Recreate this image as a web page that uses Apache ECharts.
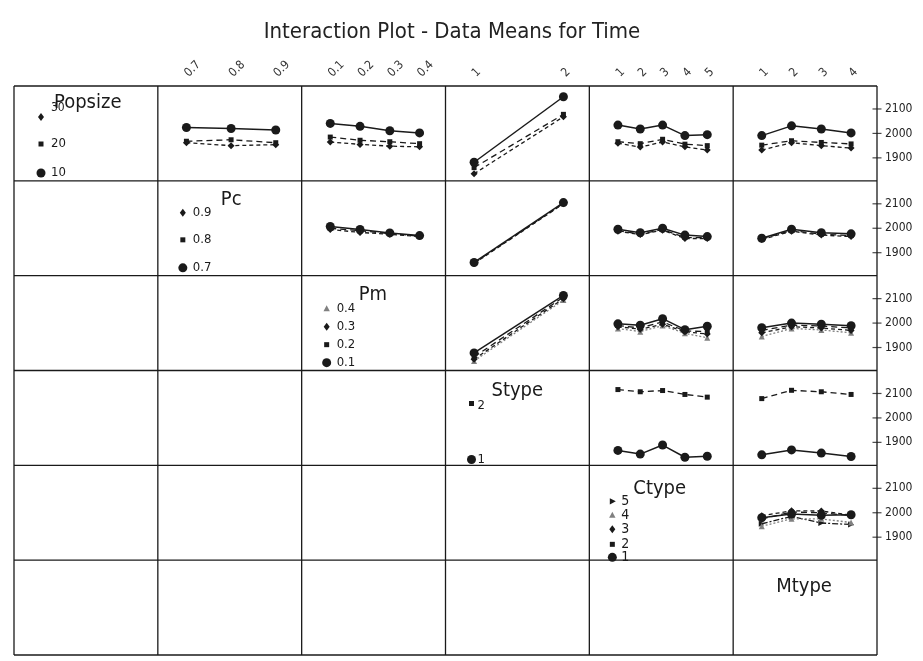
<!DOCTYPE html>
<html>
<head>
<meta charset="utf-8">
<title>Interaction Plot - Data Means for Time</title>
<script src="https://cdn.jsdelivr.net/npm/echarts@6/dist/echarts.min.js"></script>
<style>
  html, body { margin: 0; padding: 0; background: #fff; }
  #chart { width: 923px; height: 661px; }
</style>
</head>
<body>
<div id="chart"></div>
<script>
// Factors and their levels
const factorNames = ['Popsize', 'Pc', 'Pm', 'Stype', 'Ctype', 'Mtype'];
const popsizeLevels = ['10', '20', '30'];
const pcLevels = ['0.7', '0.8', '0.9'];
const pmLevels = ['0.1', '0.2', '0.3', '0.4'];
const stypeLevels = ['1', '2'];
const ctypeLevels = ['1', '2', '3', '4', '5'];
const mtypeLevels = ['1', '2', '3', '4'];
const yTicks = [1900, 2000, 2100];

// Mean Time: one row per level of the trace factor, one value per level of the x factor
const popsizeByPc = [[2024, 2020, 2014], [1968, 1974, 1962], [1962, 1950, 1954]];
const popsizeByPm = [[2041, 2029, 2011, 2002], [1985, 1972, 1966, 1958], [1965, 1955, 1948, 1945]];
const popsizeByStype = [[1882, 2150], [1860, 2078], [1835, 2068]];
const popsizeByCtype = [[2034, 2018, 2034, 1991, 1995], [1966, 1958, 1976, 1956, 1950], [1960, 1944, 1965, 1945, 1932]];
const popsizeByMtype = [[1991, 2031, 2018, 2002], [1952, 1970, 1963, 1957], [1932, 1962, 1950, 1940]];
const pcByPm = [[2007, 1995, 1981, 1970], [2000, 1990, 1978, 1968], [1995, 1983, 1975, 1966]];
const pcByStype = [[1860, 2105], [1858, 2102], [1856, 2100]];
const pcByCtype = [[1996, 1982, 2000, 1972, 1966], [1990, 1976, 1995, 1962, 1962], [1988, 1974, 1992, 1958, 1958]];
const pcByMtype = [[1959, 1996, 1982, 1977], [1956, 1991, 1976, 1970], [1954, 1988, 1972, 1966]];
const pmByStype = [[1878, 2113], [1862, 2106], [1852, 2100], [1845, 2094]];
const pmByCtype = [[1997, 1991, 2018, 1973, 1987], [1990, 1980, 2005, 1968, 1965], [1985, 1975, 1995, 1965, 1955], [1978, 1965, 1990, 1958, 1940]];
const pmByMtype = [[1981, 2000, 1995, 1989], [1970, 1992, 1988, 1980], [1960, 1985, 1980, 1970], [1945, 1978, 1972, 1960]];
const stypeByCtype = [[1867, 1852, 1889, 1839, 1843], [2116, 2107, 2112, 2096, 2085]];
const stypeByMtype = [[1849, 1869, 1856, 1842], [2079, 2113, 2107, 2096]];
const ctypeByMtype = [[1980, 1995, 1990, 1992], [1975, 2003, 2000, 1988], [1988, 2008, 2007, 1990], [1945, 1975, 1975, 1960], [1955, 1985, 1958, 1952]];

const factorLevels = [popsizeLevels, pcLevels, pmLevels, stypeLevels, ctypeLevels, mtypeLevels];
const panels = [
  [0, 1, popsizeByPc], [0, 2, popsizeByPm], [0, 3, popsizeByStype], [0, 4, popsizeByCtype], [0, 5, popsizeByMtype],
  [1, 2, pcByPm], [1, 3, pcByStype], [1, 4, pcByCtype], [1, 5, pcByMtype],
  [2, 3, pmByStype], [2, 4, pmByCtype], [2, 5, pmByMtype],
  [3, 4, stypeByCtype], [3, 5, stypeByMtype],
  [4, 5, ctypeByMtype]
];

// Matrix layout
const L = 14, T = 86, W = 863, H = 569;
const cw = W / 6, ch = H / 6;
const FONT = '"DejaVu Sans Condensed", "DejaVu Sans", sans-serif';
const INK = '#1a1a1a';

// Line / marker style for each level of the trace factor
const traceStyles = [
  { symbol: 'circle', size: 9, rotate: 0, type: 'solid', width: 1.5, color: INK },
  { symbol: 'rect', size: 5, rotate: 0, type: [6, 4], width: 1.3, color: INK },
  { symbol: 'diamond', size: 7, rotate: 0, type: [4, 3], width: 1.3, color: INK },
  { symbol: 'triangle', size: 6, rotate: 0, type: [2, 2], width: 1.3, color: '#808080' },
  { symbol: 'triangle', size: 6, rotate: -90, type: [6, 2, 2, 2], width: 1.3, color: INK }
];

const grids = [], xAxes = [], yAxes = [], series = [];
panels.forEach(([r, c, values], idx) => {
  const n = factorLevels[c].length;
  grids.push({ left: L + c * cw, top: T + r * ch, width: cw, height: ch, show: false });
  xAxes.push({
    type: 'value', gridIndex: idx, position: 'top',
    min: -(n - 1) * 0.32, max: (n - 1) * 1.29,
    show: r === 0,
    axisLine: { show: false }, axisTick: { show: false }, splitLine: { show: false },
    axisLabel: {
      show: r === 0, rotate: -45, margin: 11, fontSize: 12, color: '#333', fontFamily: FONT,
      customValues: factorLevels[c].map((_, i) => i),
      formatter: v => factorLevels[c][Math.round(v)]
    }
  });
  const last = c === 5;
  yAxes.push({
    type: 'value', gridIndex: idx, position: 'right', min: 1806, max: 2194,
    show: last,
    axisLine: { show: false }, splitLine: { show: false },
    axisTick: { show: false },
    axisLabel: {
      show: last, margin: 8, fontSize: 12, color: '#222', fontFamily: FONT,
      customValues: yTicks, formatter: v => String(v)
    }
  });
  values.forEach((trace, k) => {
    const s = traceStyles[k];
    series.push({
      type: 'line', xAxisIndex: idx, yAxisIndex: idx,
      data: trace.map((v, i) => [i, v]),
      symbol: s.symbol, symbolSize: s.size, symbolRotate: s.rotate,
      lineStyle: { type: s.type, width: s.width, color: s.color },
      itemStyle: { color: s.color },
      z: 10 - k, silent: true, animation: false
    });
  });
  // "+" tick marks across the right border, placed through the panel's own y scale
  if (last) {
    series.push({
      type: 'scatter', xAxisIndex: idx, yAxisIndex: idx,
      data: yTicks.map(v => [(n - 1) * 1.29, v]),
      symbol: 'rect', symbolSize: [9, 1.2], itemStyle: { color: INK },
      silent: true, animation: false, clip: false, z: 12
    });
  }
});

// Lattice of cell borders
const graphics = [];
for (let i = 0; i <= 6; i++) {
  graphics.push({ type: 'line', shape: { x1: L + i * cw, y1: T, x2: L + i * cw, y2: T + H }, style: { stroke: INK, lineWidth: 1.3 }, z: 5 });
  graphics.push({ type: 'line', shape: { x1: L, y1: T + i * ch, x2: L + W, y2: T + i * ch }, style: { stroke: INK, lineWidth: 1.3 }, z: 5 });
}

// Legend marker shapes drawn in the diagonal cells
function marker(k, x, y) {
  const s = traceStyles[k];
  const st = { fill: s.color };
  if (s.symbol === 'circle') return { type: 'circle', shape: { cx: x, cy: y, r: 4.5 }, style: st };
  if (s.symbol === 'rect') return { type: 'rect', shape: { x: x - 2.5, y: y - 2.5, width: 5, height: 5 }, style: st };
  if (s.symbol === 'diamond') return { type: 'polygon', shape: { points: [[x, y - 4], [x + 3, y], [x, y + 4], [x - 3, y]] }, style: st };
  if (s.rotate === 0) return { type: 'polygon', shape: { points: [[x, y - 3.5], [x + 3.2, y + 2.5], [x - 3.2, y + 2.5]] }, style: st };
  return { type: 'polygon', shape: { points: [[x + 3.5, y], [x - 2.5, y - 3.2], [x - 2.5, y + 3.2]] }, style: st };
}
function text(str, x, y, size) {
  return { type: 'text', x: x, y: y, style: { text: str, fontSize: size, fontFamily: FONT, fill: INK, verticalAlign: 'middle', align: 'left' }, z: 20 };
}

// Diagonal: factor name with its level key (highest level on top)
const legendLayouts = [
  { name: [40, 17], mx: 27, tx: 37, rows: [87, 58, 31], labelSize: 13, raise: [0, 0, -9] },
  { name: [63, 19], mx: 25, tx: 35, rows: [87, 59, 32], labelSize: 13, raise: [0, 0, 0] },
  { name: [57, 19], mx: 25, tx: 35, rows: [87, 69, 51, 33], labelSize: 13, raise: [0, 0, 0, 0] },
  { name: [46, 20], mx: 26, tx: 32, rows: [89, 33], labelSize: 13, raise: [0, 2] },
  { name: [44, 23], mx: 23, tx: 32, rows: [92, 79, 64, 50, 36], labelSize: 14, raise: [0, 0, 0, 0, 0] }
];
legendLayouts.forEach((lay, f) => {
  const ox = L + f * cw, oy = T + f * ch;
  graphics.push(text(factorNames[f], ox + lay.name[0], oy + lay.name[1], 20));
  factorLevels[f].forEach((lv, k) => {
    graphics.push(Object.assign(marker(k, ox + lay.mx, oy + lay.rows[k]), { z: 20 }));
    graphics.push(text(lv, ox + lay.tx, oy + lay.rows[k] + lay.raise[k], k === 2 && f === 0 ? 12 : lay.labelSize));
  });
});
graphics.push(text(factorNames[5], L + 5 * cw + 43, T + 5 * ch + 27, 20));

const chart = echarts.init(document.getElementById('chart'), null, { renderer: 'canvas' });
chart.setOption({
  backgroundColor: '#fff',
  animation: false,
  title: {
    text: 'Interaction Plot - Data Means for Time',
    left: 447, top: 16, textAlign: 'center',
    textStyle: { fontFamily: FONT, fontSize: 22, fontWeight: 'normal', color: '#222' }
  },
  grid: grids,
  xAxis: xAxes,
  yAxis: yAxes,
  series: series,
  graphic: graphics
});
</script>
</body>
</html>
